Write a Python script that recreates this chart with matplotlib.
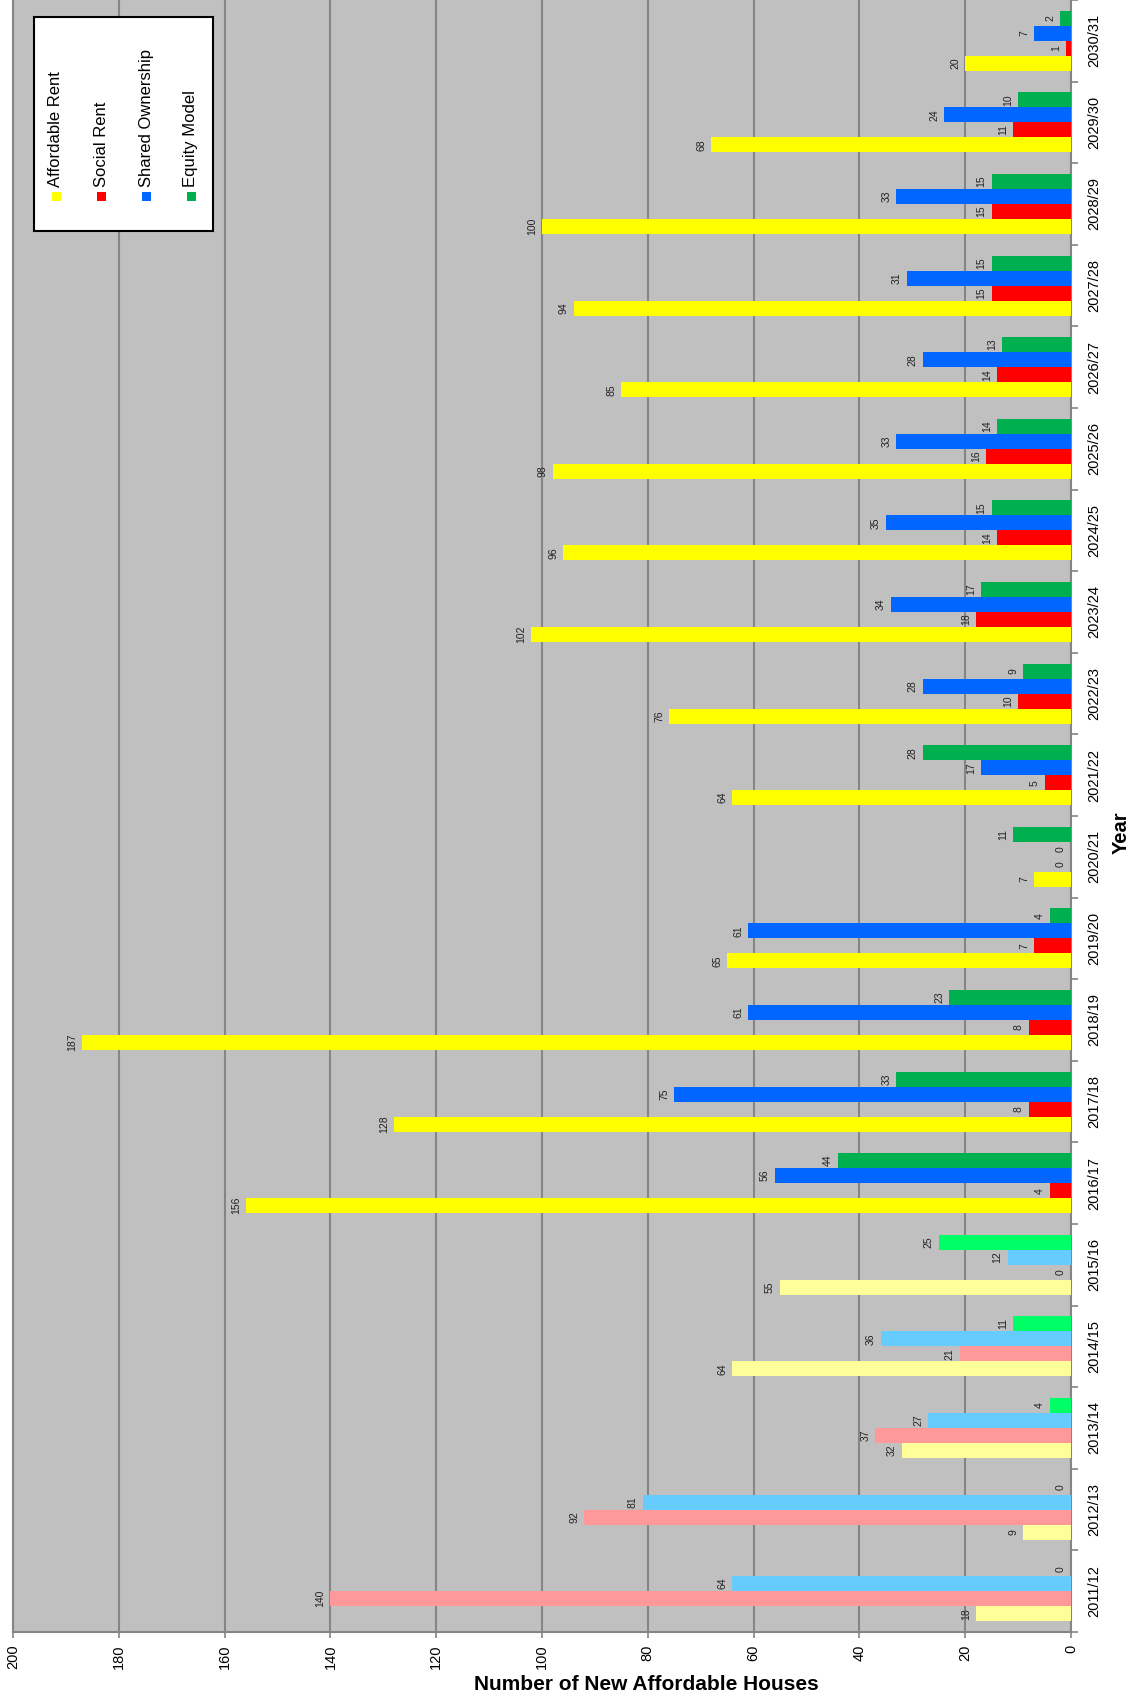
import matplotlib
matplotlib.use('Agg')
import matplotlib.pyplot as plt
from matplotlib.patches import Rectangle
import numpy as np


years = ['2011/12', '2012/13', '2013/14', '2014/15', '2015/16', '2016/17', '2017/18',
         '2018/19', '2019/20', '2020/21', '2021/22', '2022/23', '2023/24', '2024/25',
         '2025/26', '2026/27', '2027/28', '2028/29', '2029/30', '2030/31']

affordable_rent  = [18, 9, 32, 64, 55, 156, 128, 187, 65, 7, 64, 76, 102, 96, 98, 85, 94, 100, 68, 20]
social_rent      = [140, 92, 37, 21, 0, 4, 8, 8, 7, 0, 5, 10, 18, 14, 16, 14, 15, 15, 11, 1]
shared_ownership = [64, 81, 27, 36, 12, 56, 75, 61, 61, 0, 17, 28, 34, 35, 33, 28, 31, 33, 24, 7]
equity_model     = [0, 0, 4, 11, 25, 44, 33, 23, 4, 11, 28, 9, 17, 15, 14, 13, 15, 15, 10, 2]

series_names = ['Affordable Rent', 'Social Rent', 'Shared Ownership', 'Equity Model']
series_vals = [affordable_rent, social_rent, shared_ownership, equity_model]

# completed years are drawn in paler shades
n_pale = 5
pale_colors = ['#FFFF99', '#FF9999', '#66CCFF', '#00FF66']
strong_colors = ['#FFFF00', '#FF0000', '#0066FF', '#00B050']

fig_w, fig_h, fig_dpi = 11.36, 17.0, 100
W, H = 1136, 1700

plt.rcParams['font.family'] = ['Liberation Sans', 'DejaVu Sans']

fig = plt.figure(figsize=(fig_w, fig_h), dpi=fig_dpi)
ax = fig.add_axes([13/W, 1 - 1632/H, (1071-13)/W, 1632/H])
ax.set_facecolor('#C0C0C0')

grid_color = '#858585'
y = np.arange(len(years))
bh = 0.184
offsets = [-1.5*bh, -0.5*bh, 0.5*bh, 1.5*bh]

for k in range(4):
  vals = series_vals[k]
  cols = [pale_colors[k] if i < n_pale else strong_colors[k] for i in range(len(years))]
  ax.barh(y + offsets[k], vals, height=bh, color=cols, edgecolor='none', zorder=3)
  for i, v in enumerate(vals):
    ax.annotate(str(v), xy=(v, y[i] + offsets[k]), xytext=(-10, 0), textcoords='offset pixels',
                ha='center', va='center', rotation=90, fontsize=7.5, color='#222222', zorder=4)

ax.set_xlim(200, 0)
ax.set_ylim(-0.5, len(years) - 0.5)

ax.set_xticks(np.arange(0, 201, 20))
ax.set_xticklabels([str(v) for v in range(0, 201, 20)], rotation=90, fontsize=10.5)
ax.xaxis.grid(True, color=grid_color, lw=1.5)
ax.set_axisbelow(True)

ax.yaxis.tick_right()
ax.set_yticks(y)
ax.set_yticklabels(years, rotation=90, va='center', fontsize=10.5)
ax.set_yticks(np.arange(-0.5, len(years), 1), minor=True)
ax.tick_params(axis='y', which='major', length=0, pad=12)
ax.tick_params(axis='y', which='minor', length=5, width=1.2, color=grid_color, direction='out')
ax.tick_params(axis='x', which='major', length=4, width=1.2, color=grid_color, pad=5)

for side in ['left', 'right', 'bottom']:
  ax.spines[side].set_color(grid_color)
  ax.spines[side].set_linewidth(1.5)
ax.spines['top'].set_visible(False)

fig.text(646/W, 1 - 1685/H, 'Number of New Affordable Houses', ha='center', va='center',
         fontsize=15, fontweight='bold')
fig.text(1121/W, 1 - 833/H, 'Year', ha='center', va='center', rotation=90,
         fontsize=14.5, fontweight='bold')

# legend box, drawn by hand so its entries can be turned like the rest of the chart
fig.add_artist(Rectangle((34/W, 1 - 231/H), 179/W, 214/H, transform=fig.transFigure,
                         facecolor='white', edgecolor='black', lw=1.5, zorder=5))
leg_x = [56, 101, 146, 191]
for k in range(4):
  fig.add_artist(Rectangle(((leg_x[k]-4.5)/W, 1 - 201/H), 9/W, 9/H, transform=fig.transFigure,
                           facecolor=strong_colors[k], edgecolor='none', zorder=6))
  fig.text(leg_x[k]/W, 1 - 187/H, series_names[k], rotation=90, ha='center', va='bottom',
           fontsize=12, zorder=6)

fig.savefig('out.png', dpi=fig_dpi, facecolor='white')
